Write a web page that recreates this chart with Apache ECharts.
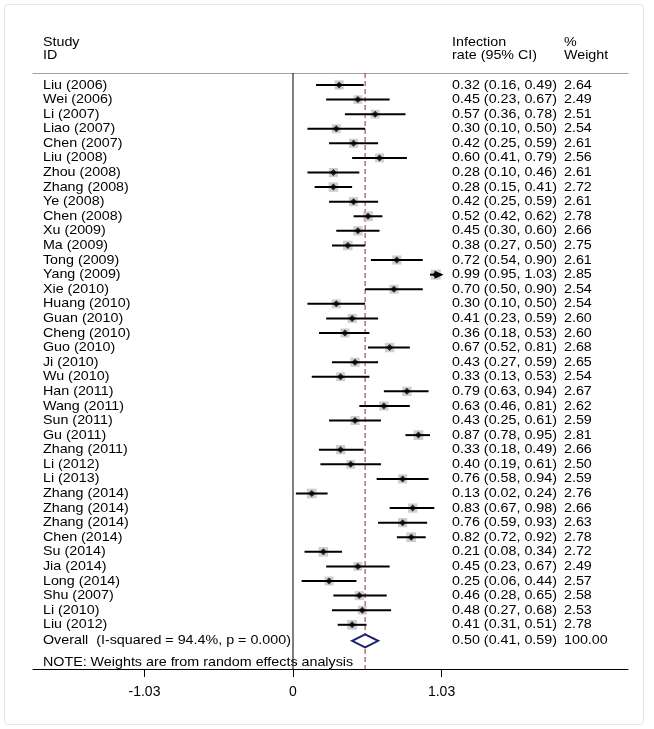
<!DOCTYPE html>
<html><head><meta charset="utf-8">
<script src="https://cdn.jsdelivr.net/npm/echarts@6/dist/echarts.min.js"></script>
<style>
html,body{margin:0;padding:0;background:#fff;}
#frame{position:absolute;left:4px;top:4px;width:640px;height:721px;border:1px solid #e6e6e6;border-radius:4px;box-sizing:border-box;}
#chart{position:absolute;left:0;top:0;width:654px;height:729px;}
</style></head><body>
<div id="frame"></div>
<div id="chart"></div>
<script>
const studies = ['Liu (2006)','Wei (2006)','Li (2007)','Liao (2007)','Chen (2007)','Liu (2008)','Zhou (2008)','Zhang (2008)','Ye (2008)','Chen (2008)','Xu (2009)','Ma (2009)','Tong (2009)','Yang (2009)','Xie (2010)','Huang (2010)','Guan (2010)','Cheng (2010)','Guo (2010)','Ji (2010)','Wu (2010)','Han (2011)','Wang (2011)','Sun (2011)','Gu (2011)','Zhang (2011)','Li (2012)','Li (2013)','Zhang (2014)','Zhang (2014)','Zhang (2014)','Chen (2014)','Su (2014)','Jia (2014)','Long (2014)','Shu (2007)','Li (2010)','Liu (2012)'];
const estimates = [0.32,0.45,0.57,0.30,0.42,0.60,0.28,0.28,0.42,0.52,0.45,0.38,0.72,0.99,0.70,0.30,0.41,0.36,0.67,0.43,0.33,0.79,0.63,0.43,0.87,0.33,0.40,0.76,0.13,0.83,0.76,0.82,0.21,0.45,0.25,0.46,0.48,0.41];
const lower = [0.16,0.23,0.36,0.10,0.25,0.41,0.10,0.15,0.25,0.42,0.30,0.27,0.54,0.95,0.50,0.10,0.23,0.18,0.52,0.27,0.13,0.63,0.46,0.25,0.78,0.18,0.19,0.58,0.02,0.67,0.59,0.72,0.08,0.23,0.06,0.28,0.27,0.31];
const upper = [0.49,0.67,0.78,0.50,0.59,0.79,0.46,0.41,0.59,0.62,0.60,0.50,0.90,1.03,0.90,0.50,0.59,0.53,0.81,0.59,0.53,0.94,0.81,0.61,0.95,0.49,0.61,0.94,0.24,0.98,0.93,0.92,0.34,0.67,0.44,0.65,0.68,0.51];
const weights = [2.64,2.49,2.51,2.54,2.61,2.56,2.61,2.72,2.61,2.78,2.66,2.75,2.61,2.85,2.54,2.54,2.60,2.60,2.68,2.65,2.54,2.67,2.62,2.59,2.81,2.66,2.50,2.59,2.76,2.66,2.63,2.78,2.72,2.49,2.57,2.58,2.53,2.78];
const overallLabel = 'Overall  (I-squared = 94.4%, p = 0.000)';
const overallEst = 0.50, overallLow = 0.41, overallHigh = 0.59, overallWeight = 100.00;
const noteText = 'NOTE: Weights are from random effects analysis';
const xTicks = [-1.03, 0, 1.03];
const headerTop = ['Study', 'Infection', '%'];
const headerBottom = ['ID', 'rate (95% CI)', 'Weight'];

// layout (data-space) constants
const X_MIN = -1.803, X_MAX = 2.323;
const Y_MIN = -0.82, Y_MAX = 40.03;
const COL_X = [-1.734, 1.103, 1.879];
const ROW_OVERALL = studies.length + 0.1;
const ROW_NOTE = studies.length + 1.6;
const ROW_H1 = -2.9, ROW_H2 = -2.05;
const FONT = '13px "Liberation Sans", Arial, sans-serif';
const SX = 1.1;
const CLIP_HI = xTicks[xTicks.length - 1];

const f2 = v => v.toFixed(2);
const texts = [];
headerTop.forEach((t, c) => texts.push([COL_X[c], ROW_H1, t]));
headerBottom.forEach((t, c) => texts.push([COL_X[c], ROW_H2, t]));
studies.forEach((s, i) => {
  texts.push([COL_X[0], i, s]);
  texts.push([COL_X[1], i, f2(estimates[i]) + ' (' + f2(lower[i]) + ', ' + f2(upper[i]) + ')']);
  texts.push([COL_X[2], i, f2(weights[i])]);
});
texts.push([COL_X[0], ROW_OVERALL, overallLabel]);
texts.push([COL_X[1], ROW_OVERALL, f2(overallEst) + ' (' + f2(overallLow) + ', ' + f2(overallHigh) + ')']);
texts.push([COL_X[2], ROW_OVERALL, f2(overallWeight)]);
texts.push([COL_X[0], ROW_NOTE, noteText]);

const chart = echarts.init(document.getElementById('chart'));
chart.setOption({
  animation: false,
  backgroundColor: 'transparent',
  grid: { left: 33, right: 26, top: 73, bottom: 60, containLabel: false },
  xAxis: [{
    type: 'value', min: X_MIN, max: X_MAX, position: 'bottom',
    axisLine: { show: true, onZero: false, lineStyle: { color: '#000', width: 1 } },
    axisTick: { show: true, length: 8, customValues: xTicks, lineStyle: { color: '#000' } },
    axisLabel: { show: true, customValues: xTicks, margin: 16, color: '#000', fontSize: 14, fontFamily: '"Liberation Sans", Arial, sans-serif',
      formatter: v => (Math.abs(v) < 1e-9 ? '0' : String(v)) },
    splitLine: { show: false }
  }, {
    type: 'value', min: X_MIN, max: X_MAX, position: 'top',
    axisLine: { show: true, onZero: false, lineStyle: { color: '#a0a0a0', width: 1 } },
    axisTick: { show: false }, axisLabel: { show: false }, splitLine: { show: false }
  }],
  yAxis: { type: 'value', inverse: true, min: Y_MIN, max: Y_MAX, show: false, splitLine: { show: false } },
  series: [
    {
      type: 'custom', name: 'refs', silent: true, z: 1,
      data: [[0, Y_MIN, Y_MAX], [overallEst, Y_MIN, Y_MAX]],
      encode: { x: 0, y: [1, 2] },
      renderItem: (params, api) => {
        const a = api.coord([api.value(0), api.value(1)]);
        const b = api.coord([api.value(0), api.value(2)]);
        const dashed = params.dataIndex === 1;
        return { type: 'line', shape: { x1: a[0], y1: a[1], x2: b[0], y2: b[1] },
          style: { stroke: dashed ? '#9b2a2a' : '#000', lineWidth: 1, lineDash: dashed ? [5, 3] : null } };
      }
    },
    {
      type: 'scatter', name: 'weight box', symbol: 'rect', z: 2, silent: true,
      data: estimates.map((e, i) => [e, i, weights[i]]),
      symbolSize: v => v[2] * 3.5,
      itemStyle: { color: '#c2c2c2' }
    },
    {
      type: 'custom', name: 'ci', silent: true, z: 3,
      data: studies.map((s, i) => [lower[i], upper[i], i]),
      encode: { x: [0, 1], y: 2 },
      renderItem: (params, api) => {
        const hi = api.value(1);
        const a = api.coord([api.value(0), api.value(2)]);
        const b = api.coord([hi, api.value(2)]);
        const children = [{ type: 'line', shape: { x1: a[0], y1: a[1], x2: b[0], y2: b[1] },
          style: { stroke: '#000', lineWidth: 2 } }];
        if (hi >= CLIP_HI) {
          children.push({ type: 'polygon', shape: { points: [[b[0] + 2, b[1]], [b[0] - 7, b[1] - 4], [b[0] - 7, b[1] + 4]] },
            style: { fill: '#000' } });
        }
        return { type: 'group', children };
      }
    },
    {
      type: 'scatter', name: 'estimate', symbol: 'diamond', symbolSize: 7, z: 4, silent: true,
      data: estimates.map((e, i) => [e, i]),
      itemStyle: { color: '#000' }
    },
    {
      type: 'custom', name: 'overall', silent: true, z: 5,
      data: [[overallLow, overallEst, overallHigh, ROW_OVERALL]],
      encode: { x: [0, 1, 2], y: 3 },
      renderItem: (params, api) => {
        const y = api.value(3);
        const l = api.coord([api.value(0), y]);
        const c = api.coord([api.value(1), y]);
        const r = api.coord([api.value(2), y]);
        const h = 6.5;
        return { type: 'polygon', shape: { points: [[l[0], l[1]], [c[0], c[1] - h], [r[0], r[1]], [c[0], c[1] + h]] },
          style: { fill: '#fff', stroke: '#1c2270', lineWidth: 2 } };
      }
    },
    {
      type: 'custom', name: 'texts', silent: true, z: 6,
      data: texts.map(t => [t[0], t[1]]),
      encode: { x: 0, y: 1 },
      renderItem: (params, api) => {
        const p = api.coord([api.value(0), api.value(1)]);
        return { type: 'text', x: p[0], y: p[1], scaleX: SX,
          style: { text: texts[params.dataIndex][2], font: FONT, fill: '#000', align: 'left', verticalAlign: 'middle' } };
      }
    }
  ]
});
</script>
</body></html>
